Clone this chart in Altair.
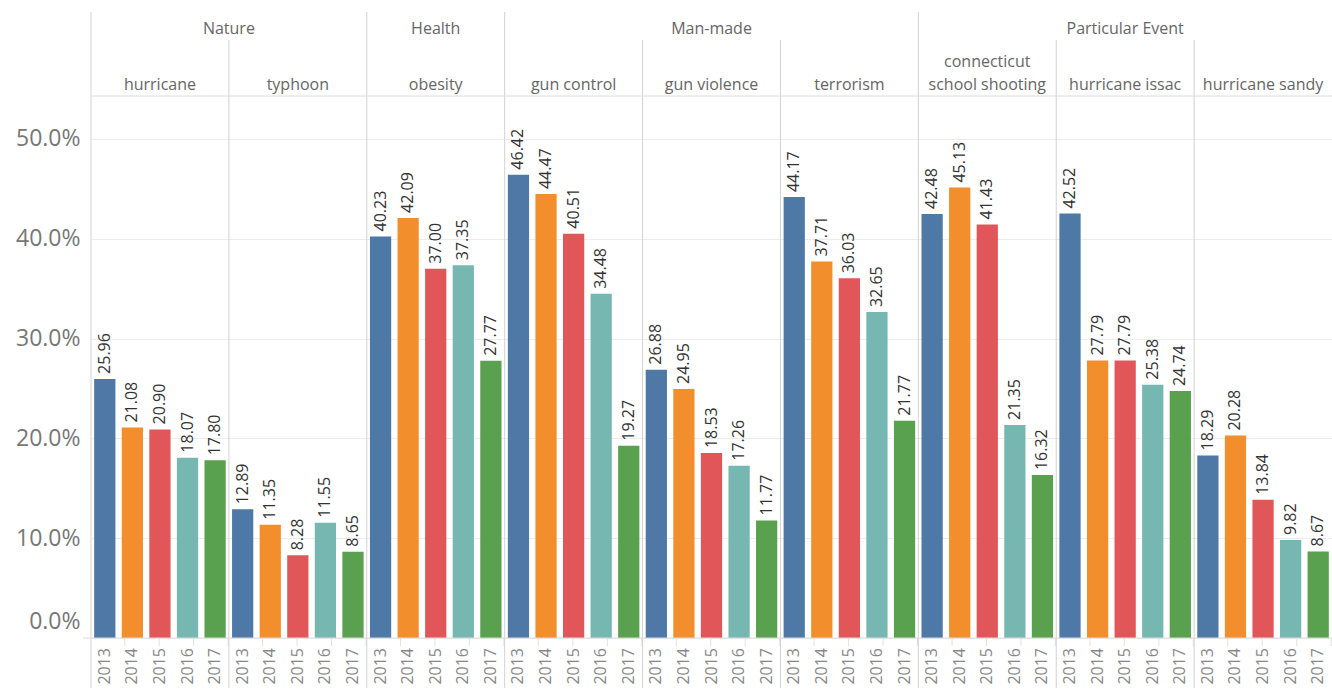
import altair as alt
import pandas as pd

subs = ["hurricane", "typhoon", "obesity", "gun control", "gun violence",
        "terrorism", "connecticut school shooting", "hurricane issac", "hurricane sandy"]
sub_labels = ["hurricane", "typhoon", "obesity", "gun control", "gun violence",
              "terrorism", "connecticut\nschool shooting", "hurricane issac", "hurricane sandy"]
groups = ["Nature", "Nature", "Health", "Man-made", "Man-made", "Man-made",
          "Particular Event", "Particular Event", "Particular Event"]
years = ["2013", "2014", "2015", "2016", "2017"]

v_hurricane = [25.96, 21.08, 20.90, 18.07, 17.80]
v_typhoon = [12.89, 11.35, 8.28, 11.55, 8.65]
v_obesity = [40.23, 42.09, 37.00, 37.35, 27.77]
v_gun_control = [46.42, 44.47, 40.51, 34.48, 19.27]
v_gun_violence = [26.88, 24.95, 18.53, 17.26, 11.77]
v_terrorism = [44.17, 37.71, 36.03, 32.65, 21.77]
v_connecticut = [42.48, 45.13, 41.43, 21.35, 16.32]
v_issac = [42.52, 27.79, 27.79, 25.38, 24.74]
v_sandy = [18.29, 20.28, 13.84, 9.82, 8.67]
values = [v_hurricane, v_typhoon, v_obesity, v_gun_control, v_gun_violence,
          v_terrorism, v_connecticut, v_issac, v_sandy]

colors = ["#4e79a7", "#f28e2b", "#e15759", "#76b7b2", "#59a14f"]
y_ticks = [0, 10, 20, 30, 40, 50]

rows = []
for s, vals in zip(subs, values):
    for yr, v in zip(years, vals):
        rows.append({"sub": s, "year": yr, "key": s + "|" + yr, "value": v})
df = pd.DataFrame(rows)
keys = [s + "|" + yr for s in subs for yr in years]
df_ticks = df[df["year"] != years[-1]]

starts = [i == 0 or groups[i] != groups[i - 1] for i in range(len(subs))]
df_start = pd.DataFrame({"sub": [s for s, st in zip(subs, starts) if st]})
df_inner = pd.DataFrame({"sub": [s for s, st in zip(subs, starts) if not st]})
df_sub1 = pd.DataFrame({"sub": [s for s, l in zip(subs, sub_labels) if "\n" not in l],
                        "label": [l for l in sub_labels if "\n" not in l]})
df_sub2 = pd.DataFrame({"sub": [s for s, l in zip(subs, sub_labels) if "\n" in l],
                        "label": [l for l in sub_labels if "\n" in l]})

# group label anchors
mid_rows, edge_rows = [], []
seen = []
for g in groups:
    if g not in seen:
        seen.append(g)
for g in seen:
    idx = [i for i, gg in enumerate(groups) if gg == g]
    n = len(idx)
    if n % 2 == 1:
        mid_rows.append({"sub": subs[idx[n // 2]], "group": g})
    else:
        edge_rows.append({"sub": subs[idx[n // 2 - 1]], "group": g})
df_gmid = pd.DataFrame(mid_rows)
df_gedge = pd.DataFrame(edge_rows)
one = pd.DataFrame({"a": [0]})

W, H = 1241, 542
PANEL = W / len(subs)
PAD_IN = 0.23
STEP = W / len(keys)
GAP = PAD_IN * STEP
FONT = "Open Sans"
LINE = "#d2d2d2"
LH = 23

xkey_scale = alt.Scale(paddingInner=PAD_IN, paddingOuter=PAD_IN / 2)


def xkey(bp=0.5):
    return alt.X("key:N", sort=keys, axis=None, bandPosition=bp, scale=xkey_scale)


def xsub(bp=0.5):
    return alt.X("sub:N", sort=subs, axis=None, bandPosition=bp,
                 scale=alt.Scale(domain=subs, paddingInner=0, paddingOuter=0))


yenc = alt.Y("value:Q", title=None,
             scale=alt.Scale(domain=[0, 54.3], nice=False, zero=True),
             axis=alt.Axis(values=y_ticks, labelExpr="format(datum.value, '.1f') + '%'",
                           labelFontSize=23, labelColor="#777", labelFont=FONT,
                           labelPadding=11, ticks=False, domain=False,
                           grid=True, gridColor="#ececec", labelFlush=True,
                           labelFlushOffset=-5))

bars = alt.Chart(df).mark_bar().encode(
    x=xkey(), y=yenc,
    color=alt.Color("year:N", sort=years,
                    scale=alt.Scale(domain=years, range=colors), legend=None),
)

val_text = alt.Chart(df).mark_text(
    angle=270, align="left", baseline="middle", dx=5,
    fontSize=16, color="#333", font=FONT
).encode(x=xkey(), y=alt.Y("value:Q"),
         text=alt.Text("value:Q", format=".2f"))

year_text = alt.Chart(df).mark_text(
    angle=270, align="right", baseline="middle",
    fontSize=16, color="#888", font=FONT
).encode(x=xkey(), y=alt.value(H + 10), text="year:N")

tick_marks = alt.Chart(df_ticks).mark_rule(color="#e2e2e2", xOffset=GAP / 2).encode(
    x=xkey(1), y=alt.value(H), y2=alt.value(H + 8))

sep_start = alt.Chart(df_start).mark_rule(color=LINE, strokeWidth=1).encode(
    x=xsub(0), y=alt.value(-84), y2=alt.value(H + 60))

sep_inner = alt.Chart(df_inner).mark_rule(color=LINE, strokeWidth=1).encode(
    x=xsub(0), y=alt.value(-56), y2=alt.value(H + 60))

head_line = alt.Chart(one).mark_rule(color="#dcdcdc").encode(
    x=alt.value(0), x2=alt.value(W), y=alt.value(0))
base_line = alt.Chart(one).mark_rule(color="#dcdcdc").encode(
    x=alt.value(-8), x2=alt.value(W), y=alt.value(H))

sub_text1 = alt.Chart(df_sub1).mark_text(
    baseline="bottom", fontSize=16, color="#666", font=FONT
).encode(x=xsub(), y=alt.value(-3), text="label:N")

sub_text2 = alt.Chart(df_sub2).mark_text(
    baseline="bottom", lineBreak="\n", lineHeight=LH,
    fontSize=16, color="#666", font=FONT
).encode(x=xsub(), y=alt.value(-3 - LH), text="label:N")

grp_mid = alt.Chart(df_gmid).mark_text(
    baseline="middle", fontSize=16, color="#666", font=FONT
).encode(x=xsub(), y=alt.value(-67), text="group:N")

grp_edge = alt.Chart(df_gedge).mark_text(
    baseline="middle", fontSize=16, color="#666", font=FONT, dx=PANEL / 2
).encode(x=xsub(), y=alt.value(-67), text="group:N")

chart = alt.layer(
    bars, tick_marks, sep_start, sep_inner, head_line, base_line,
    val_text, year_text, sub_text1, sub_text2, grp_mid, grp_edge
).resolve_scale(x="independent").properties(
    width=W, height=H,
    autosize=alt.AutoSizeParams(type="none"),
    padding={"left": 91, "top": 96, "right": 0, "bottom": 50},
).configure_view(stroke=None)

chart.save("out.html", embed_options={"renderer": "svg", "actions": False})
